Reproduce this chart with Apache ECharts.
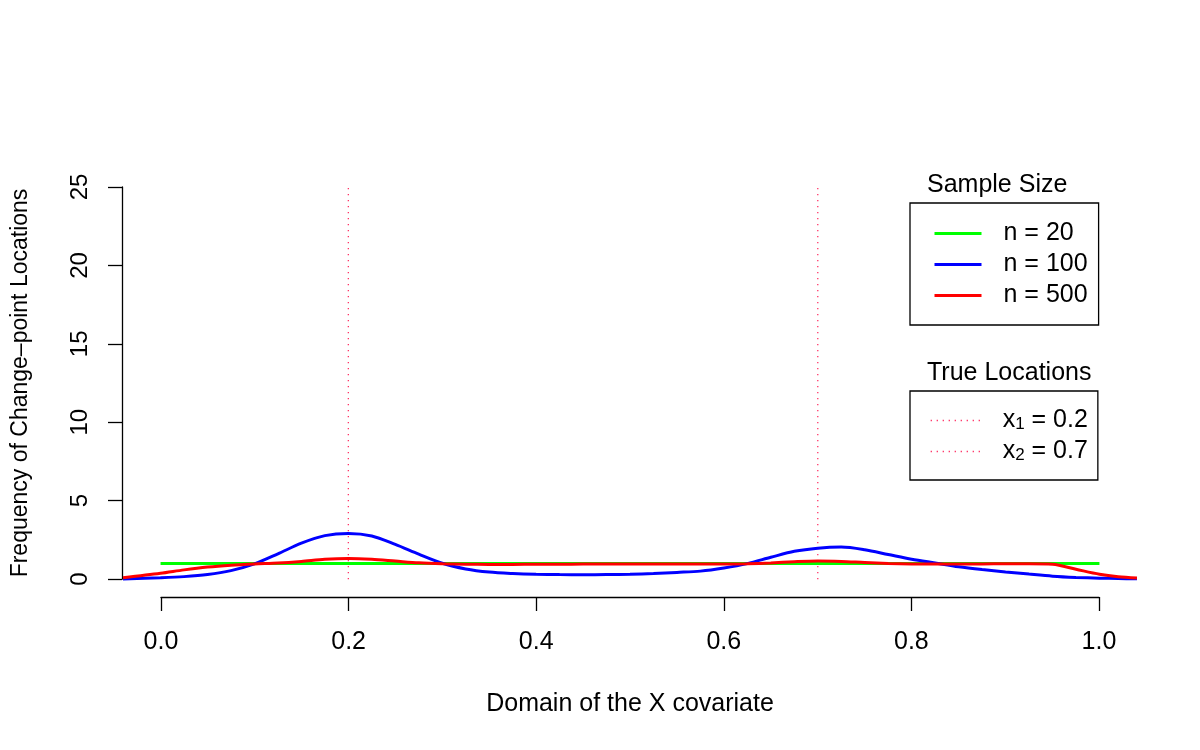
<!DOCTYPE html>
<html>
<head>
<meta charset="utf-8">
<script src="https://cdn.jsdelivr.net/npm/echarts@6/dist/echarts.min.js"></script>
<style>
  html, body { margin: 0; padding: 0; background: #fff; }
  #chart { width: 1200px; height: 750px; }
</style>
</head>
<body>
<div id="chart"></div>
<script>
// values
const xGrid = [-0.04, 0.0, 0.025, 0.05, 0.075, 0.10, 0.125, 0.15, 0.175, 0.20, 0.225,
  0.25, 0.275, 0.30, 0.325, 0.35, 0.375, 0.40, 0.425, 0.45, 0.475, 0.50, 0.525, 0.55,
  0.575, 0.60, 0.625, 0.65, 0.675, 0.70, 0.725, 0.75, 0.775, 0.80, 0.825, 0.85, 0.875,
  0.90, 0.925, 0.95, 0.975, 1.00, 1.02, 1.04];
const n100 = [0.02, 0.10, 0.17, 0.30, 0.55, 0.98, 1.62, 2.30, 2.78, 2.92, 2.76,
  2.22, 1.60, 1.02, 0.66, 0.46, 0.37, 0.32, 0.30, 0.29, 0.30, 0.32, 0.37, 0.44,
  0.52, 0.72, 1.00, 1.40, 1.78, 1.98, 2.05, 1.88, 1.58, 1.28, 1.04, 0.80, 0.62,
  0.47, 0.33, 0.20, 0.12, 0.07, 0.05, 0.03];
const n500 = [0.10, 0.38, 0.60, 0.78, 0.90, 0.98, 1.04, 1.14, 1.27, 1.32, 1.27,
  1.16, 1.05, 0.99, 0.96, 0.95, 0.95, 0.96, 0.96, 0.97, 0.98, 0.98, 0.98, 0.97,
  0.97, 0.97, 0.99, 1.04, 1.12, 1.17, 1.14, 1.07, 1.01, 0.98, 0.97, 0.97, 0.98,
  0.99, 0.99, 0.96, 0.64, 0.32, 0.16, 0.08];
const n20X = [0.0, 1.0];
const n20 = [1, 1];
const trueLocs = [0.2, 0.7];
const sampleNames = ['n = 20', 'n = 100', 'n = 500'];
const yTicks = [0, 5, 10, 15, 20, 25];

const font = 'Liberation Sans, Arial, sans-serif';
const pairs = (xs, ys) => xs.map((x, i) => [x, ys[i]]);

const curveSeries = [
  { name: sampleNames[0], data: pairs(n20X, n20), color: '#00ff00' },
  { name: sampleNames[1], data: pairs(xGrid, n100), color: '#0000ff' },
  { name: sampleNames[2], data: pairs(xGrid, n500), color: '#ff0000' }
].map(s => ({
  type: 'line', name: s.name, data: s.data, xAxisIndex: 0, yAxisIndex: 0,
  smooth: 0.3, symbol: 'none', color: s.color,
  lineStyle: { width: 3, color: s.color }, z: 3
}));

const locSeries = trueLocs.map((v, i) => ({
  type: 'line', name: 'x' + (i + 1), xAxisIndex: 0, yAxisIndex: 0,
  data: [[v, yTicks[0]], [v, yTicks[yTicks.length - 1]]],
  symbol: 'none', color: '#ff3366',
  lineStyle: { width: 1.3, type: [1.3, 4.7], color: '#ff3366' }, z: 2
}));

const axisBlack = { color: '#000', width: 1.3 };

const chart = echarts.init(document.getElementById('chart'));
chart.setOption({
  animation: false,
  backgroundColor: '#fff',
  textStyle: { fontFamily: font },
  title: [
    { text: 'Sample Size', left: 927, top: 173, padding: 0,
      textStyle: { fontSize: 25, fontWeight: 'normal', color: '#000', fontFamily: font } },
    { text: 'True Locations', left: 927, top: 361, padding: 0,
      textStyle: { fontSize: 25, fontWeight: 'normal', color: '#000', fontFamily: font } }
  ],
  grid: [
    { left: 123, right: 63, top: 171, bottom: 155 },
    { left: 161, right: 101, top: 596, height: 1 },
    { left: 122, width: 1, top: 187, bottom: 171 }
  ],
  xAxis: [
    { gridIndex: 0, type: 'value', min: -0.04, max: 1.04, show: false },
    { gridIndex: 1, type: 'value', min: 0, max: 1, interval: 0.2, position: 'bottom',
      axisLine: { show: true, onZero: false, lineStyle: axisBlack },
      axisTick: { show: true, length: 14, lineStyle: axisBlack },
      splitLine: { show: false },
      axisLabel: { margin: 33, fontSize: 25, color: '#000', fontFamily: font,
        formatter: v => v.toFixed(1) },
      name: 'Domain of the X covariate', nameLocation: 'middle', nameGap: 95,
      nameTextStyle: { fontSize: 25, color: '#000', fontFamily: font } },
    { gridIndex: 2, type: 'value', min: 0, max: 1, show: false }
  ],
  yAxis: [
    { gridIndex: 0, type: 'value', min: -1, max: 26, show: false },
    { gridIndex: 1, type: 'value', min: 0, max: 1, show: false },
    { gridIndex: 2, type: 'value', min: 0, max: 25, interval: 5, position: 'left',
      axisLine: { show: true, onZero: false, lineStyle: axisBlack },
      axisTick: { show: true, length: 14, lineStyle: axisBlack },
      splitLine: { show: false },
      axisLabel: { margin: 30, fontSize: 24, color: '#000', rotate: 90, fontFamily: font },
      name: 'Frequency of Change\u2013point Locations', nameLocation: 'middle', nameGap: 90,
      nameRotate: 90,
      nameTextStyle: { fontSize: 23, color: '#000', fontFamily: font } }
  ],
  legend: [
    { data: sampleNames, orient: 'vertical', left: 910, top: 203,
      padding: [18, 11, 17, 23], itemWidth: 47, itemHeight: 12, itemGap: 6,
      borderColor: '#000', borderWidth: 1.3, borderRadius: 0,
      selectedMode: false,
      itemStyle: { opacity: 0 },
      lineStyle: { width: 3 },
      textStyle: { fontSize: 25, lineHeight: 25, color: '#000', padding: [0, 0, 0, 17], fontFamily: font } },
    { data: locSeries.map(s => s.name), orient: 'vertical', left: 910, top: 391,
      padding: [17, 10, 16, 20], itemWidth: 50, itemHeight: 12, itemGap: 6,
      borderColor: '#000', borderWidth: 1.3, borderRadius: 0,
      selectedMode: false,
      itemStyle: { opacity: 0 },
      lineStyle: { width: 1.3, type: [1.3, 4.7] },
      formatter: name => {
        const i = Number(name.slice(1)) - 1;
        return '{m|x}{s|' + (i + 1) + '}{m| = ' + trueLocs[i].toFixed(1) + '}';
      },
      textStyle: { fontSize: 25, lineHeight: 25, color: '#000', padding: [0, 0, 0, 17], fontFamily: font,
        rich: {
          m: { fontSize: 25, lineHeight: 25, color: '#000', fontFamily: font },
          s: { fontSize: 17, lineHeight: 12, verticalAlign: 'bottom', color: '#000', fontFamily: font }
        } } }
  ],
  series: locSeries.concat(curveSeries)
});
</script>
</body>
</html>
